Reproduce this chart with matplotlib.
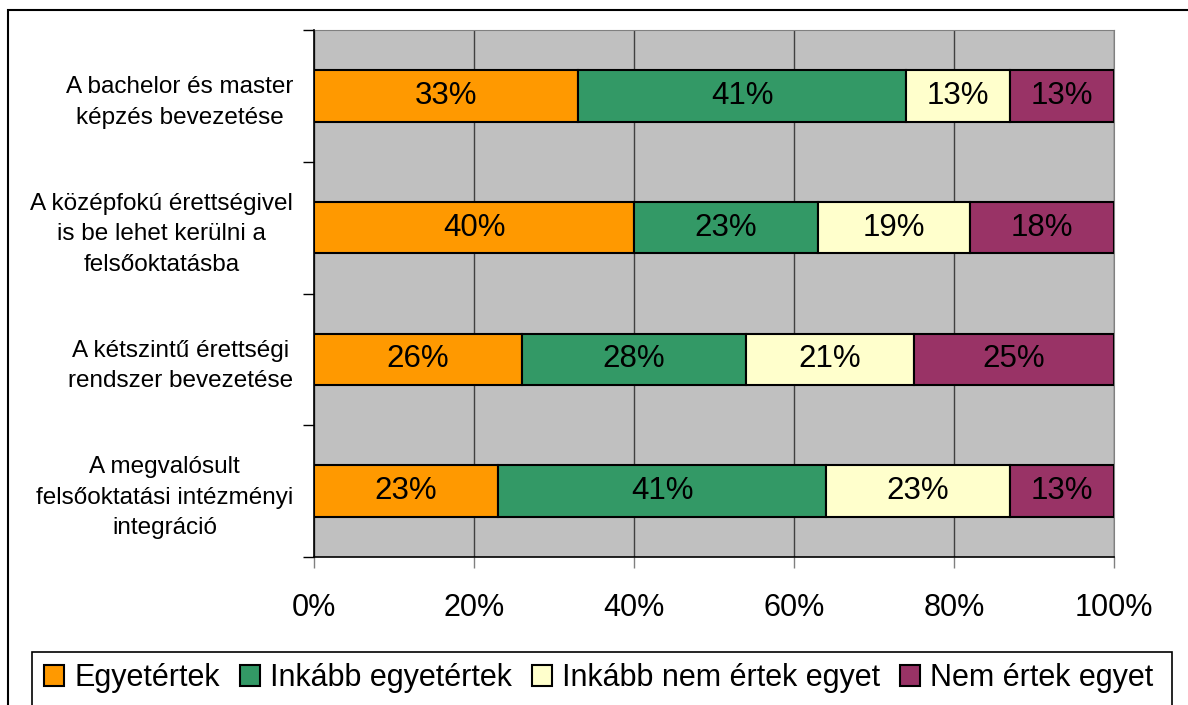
import matplotlib
matplotlib.use("Agg")
import matplotlib.pyplot as plt
from matplotlib.patches import Rectangle
import numpy as np

plt.rcParams['font.family'] = ['Liberation Sans', 'DejaVu Sans']

categories = [
    "A bachelor és master\nképzés bevezetése",
    "A középfokú érettségivel\nis be lehet kerülni a\nfelsőoktatásba",
    "A kétszintű érettségi\nrendszer bevezetése",
    "A megvalósult\nfelsőoktatási intézményi\nintegráció",
]
series_names = ["Egyetértek", "Inkább egyetértek", "Inkább nem értek egyet", "Nem értek egyet"]
egyetertek = [33, 40, 26, 23]
inkabb_egyetertek = [41, 23, 28, 41]
inkabb_nem = [13, 19, 21, 23]
nem_ertek = [13, 18, 25, 13]
x_ticks = [0, 20, 40, 60, 80, 100]
x_tick_labels = ["0%", "20%", "40%", "60%", "80%", "100%"]

colors = ["#FF9900", "#339966", "#FFFFCC", "#993366"]
series = [egyetertek, inkabb_egyetertek, inkabb_nem, nem_ertek]

W, H = 1188, 705
fig = plt.figure(figsize=(W / 100, H / 100), dpi=100)
ax = fig.add_axes([314 / W, 1 - 557 / H, (1114 - 314) / W, (557 - 30) / H])
ax.set_facecolor("#C0C0C0")

y = np.arange(len(categories))
left = np.zeros(len(categories))
for vals, col, name in zip(series, colors, series_names):
    vals = np.array(vals, dtype=float)
    ax.barh(y, vals, left=left, height=0.39, color=col, edgecolor="black",
            linewidth=1.5, label=name, zorder=3)
    for yi, l, v in zip(y, left, vals):
        ax.text(l + v / 2, yi, f"{int(v)}%", ha="center", va="center",
                fontsize=22.5, color="black", zorder=4)
    left += vals

ax.set_xlim(0, 100)
ax.set_ylim(len(categories) - 0.5, -0.5)
ax.set_xticks(x_ticks)
ax.set_xticklabels(x_tick_labels, fontsize=22)
ax.tick_params(axis="x", length=8, width=1, color="#808080", pad=18)
ax.set_yticks(y)
ax.set_yticklabels(categories, fontsize=17.5, linespacing=1.5, multialignment="center")
ax.tick_params(axis="y", which="major", length=0, pad=15)
ax.set_yticks(np.arange(-0.5, len(categories), 1.0), minor=True)
ax.tick_params(axis="y", which="minor", length=8, width=1, color="black")
ax.xaxis.grid(True, color="#404040", linewidth=1, zorder=1)
ax.set_axisbelow(True)
for s in ["top", "right"]:
    ax.spines[s].set_color("#808080")
for s in ["left", "bottom"]:
    ax.spines[s].set_color("black")
    ax.spines[s].set_linewidth(1.2)
ax.spines["left"].set_zorder(5)

# outer chart frame (clipped at right/bottom)
fig.patches.append(Rectangle((8 / W, -0.1), 1.2, 1 - 10 / H + 0.1, transform=fig.transFigure,
                             fill=False, edgecolor="black", linewidth=1.5))
# legend frame
fig.patches.append(Rectangle((32 / W, -0.1), (1172 - 32) / W, 1 - 652 / H + 0.1,
                             transform=fig.transFigure, fill=False, edgecolor="black",
                             linewidth=1.2))

handles, labels = ax.get_legend_handles_labels()
fig.legend(handles, labels, loc="center", bbox_to_anchor=(599 / W, 1 - 678 / H), ncol=4,
           frameon=False, fontsize=22, handlelength=0.66, handleheight=0.66,
           handletextpad=0.33, columnspacing=0.65, borderpad=0)

fig.savefig("out.png", dpi=100)
